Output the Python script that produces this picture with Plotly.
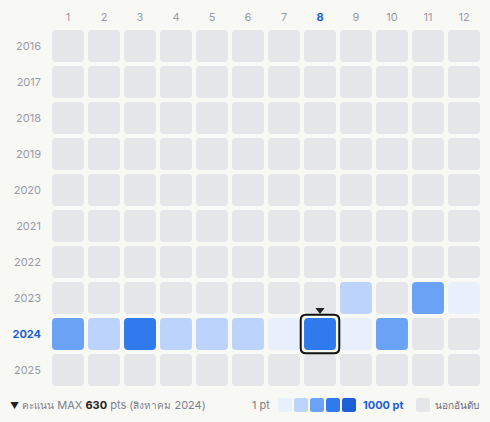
import plotly.graph_objects as go

# ---------------- data ----------------
years = [2016, 2017, 2018, 2019, 2020, 2021, 2022, 2023, 2024, 2025]
months = [1, 2, 3, 4, 5, 6, 7, 8, 9, 10, 11, 12]
points_2016 = [None] * 12
points_2017 = [None] * 12
points_2018 = [None] * 12
points_2019 = [None] * 12
points_2020 = [None] * 12
points_2021 = [None] * 12
points_2022 = [None] * 12
points_2023 = [None, None, None, None, None, None, None, None, 300, None, 480, 120]
points_2024 = [520, 310, 610, 280, 260, 290, 90, 630, 60, 450, None, None]
points_2025 = [None] * 12
level_bounds = [1, 200, 400, 600, 800, 1000]
level_colors = ["#e8effd", "#bcd3fb", "#6aa3f5", "#2f7bed", "#1d5fd6"]
empty_color = "#e5e6ea"
month_names_th = {8: "สิงหาคม"}

points_by_year = {
    2016: points_2016, 2017: points_2017, 2018: points_2018, 2019: points_2019,
    2020: points_2020, 2021: points_2021, 2022: points_2022, 2023: points_2023,
    2024: points_2024, 2025: points_2025,
}

# ---------------- style ----------------
BG = "#f8f8f5"
GRAY_TXT = "#9a9aa8"
BLUE = "#1d5fd6"
FONT = "Inter, Noto Sans, sans-serif"
W, H = 490, 422
L, R, T, B = 50, 8, 28, 34
PW, PH = W - L - R, H - T - B
HALF = 0.444   # half cell size in axis units
RAD = 0.11     # corner radius in axis units


def color_for(v):
    if v is None:
        return empty_color
    for i in range(len(level_colors)):
        if v < level_bounds[i + 1] or i == len(level_colors) - 1:
            return level_colors[i]
    return level_colors[-1]


def rrect(x0, y0, x1, y1, r):
    return (f"M{x0+r},{y0} L{x1-r},{y0} Q{x1},{y0} {x1},{y0+r} "
            f"L{x1},{y1-r} Q{x1},{y1} {x1-r},{y1} L{x0+r},{y1} "
            f"Q{x0},{y1} {x0},{y1-r} L{x0},{y0+r} Q{x0},{y0} {x0+r},{y0} Z")


def px_x(p):
    return (p - L) / PW


def px_y(p):
    return (T + PH - p) / PH


def paper_rrect(x0, y0, x1, y1, r):
    # pixel rect -> path in paper coords (rounded corners)
    rx, ry = r / PW, r / PH
    a, b, c, d = px_x(x0), px_y(y0), px_x(x1), px_y(y1)
    return (f"M{a+rx},{b} L{c-rx},{b} Q{c},{b} {c},{b-ry} "
            f"L{c},{d+ry} Q{c},{d} {c-rx},{d} L{a+rx},{d} "
            f"Q{a},{d} {a},{d+ry} L{a},{b-ry} Q{a},{b} {a+rx},{b} Z")


shapes = []
hx, hy, htxt = [], [], []
best = None
for y in years:
    for m, v in zip(months, points_by_year[y]):
        shapes.append(dict(type="path", xref="x", yref="y", layer="below",
                           path=rrect(m - HALF, y - HALF, m + HALF, y + HALF, RAD),
                           fillcolor=color_for(v), line=dict(width=0)))
        hx.append(m)
        hy.append(y)
        htxt.append(f"{y}-{m:02d}: {v} pts" if v is not None else f"{y}-{m:02d}: นอกอันดับ")
        if v is not None and (best is None or v > best[2]):
            best = (m, y, v)

bm, by, bv = best
E = 0.5 + 2 / 36
shapes.append(dict(type="path", xref="x", yref="y",
                   path=rrect(bm - E + 0.02, by - E + 0.02, bm + E - 0.02, by + E - 0.02, 0.15),
                   fillcolor="rgba(0,0,0,0)", line=dict(color="#111111", width=2)))

fig = go.Figure()
fig.add_trace(go.Scatter(x=hx, y=hy, mode="markers", hovertext=htxt, hoverinfo="text",
                         marker=dict(size=30, symbol="square", opacity=0), showlegend=False))
fig.add_trace(go.Scatter(x=[bm], y=[by - 0.67], mode="markers", hoverinfo="skip",
                         marker=dict(symbol="triangle-down", size=8, color="#222222"),
                         showlegend=False))

month_ticks = [f"<b><span style='color:{BLUE}'>{m}</span></b>" if m == bm else str(m) for m in months]
year_ticks = [f"<b><span style='color:{BLUE}'>{y}</span></b>" if y == by else str(y) for y in years]

# ---- legend (bottom) ----
ly = 405
ann = []
ann.append(dict(xref="paper", yref="paper", x=px_x(8), y=px_y(ly), xanchor="left", yanchor="middle",
                showarrow=False, font=dict(size=11, color="#7d7f8c", family=FONT),
                text=(f"<span style='color:#222;font-size:9px'>▼</span> "
                      f"<span style='font-size:10px'>คะแนน</span> MAX "
                      f"<b><span style='color:#222'>{bv}</span></b> pts "
                      f"(<span style='font-size:10px'>{month_names_th.get(bm, str(bm))}</span> {by})")))
ann.append(dict(xref="paper", yref="paper", x=px_x(272), y=px_y(ly), xanchor="right", yanchor="middle",
                showarrow=False, font=dict(size=11, color="#7d7f8c", family=FONT),
                text=f"{level_bounds[0]} pt"))
for i, c in enumerate(level_colors):
    x0 = 278 + 16 * i
    shapes.append(dict(type="path", xref="paper", yref="paper",
                       path=paper_rrect(x0, ly - 7, x0 + 14, ly + 7, 2.5),
                       fillcolor=c, line=dict(width=0)))
ann.append(dict(xref="paper", yref="paper", x=px_x(361), y=px_y(ly), xanchor="left", yanchor="middle",
                showarrow=False, font=dict(size=11, color=BLUE, family=FONT),
                text=f"<b>{level_bounds[-1]} pt</b>"))
shapes.append(dict(type="path", xref="paper", yref="paper",
                   path=paper_rrect(416, ly - 7, 430, ly + 7, 2.5),
                   fillcolor=empty_color, line=dict(width=0)))
ann.append(dict(xref="paper", yref="paper", x=px_x(433), y=px_y(ly), xanchor="left", yanchor="middle",
                showarrow=False, font=dict(size=10, color="#6b6b78", family=FONT),
                text="นอกอันดับ"))

fig.update_layout(
    width=W, height=H,
    margin=dict(l=L, r=R, t=T, b=B, pad=0),
    paper_bgcolor=BG, plot_bgcolor=BG,
    shapes=shapes, annotations=ann,
    font=dict(family=FONT, size=11, color=GRAY_TXT),
    xaxis=dict(range=[0.5, 12.5], side="top", tickmode="array", tickvals=months, ticktext=month_ticks,
               showgrid=False, zeroline=False, showline=False, ticks="", ticklabelstandoff=4,
               tickfont=dict(size=11, color=GRAY_TXT), fixedrange=True),
    yaxis=dict(range=[2025.5, 2015.5], tickmode="array", tickvals=years, ticktext=year_ticks,
               showgrid=False, zeroline=False, showline=False, ticks="", ticklabelstandoff=8,
               tickfont=dict(size=11, color=GRAY_TXT), fixedrange=True),
    hovermode="closest",
)

fig.write_html("out.html", config={"displayModeBar": False},
               post_script="document.body.style.margin='0';document.body.style.background='" + BG + "';")
